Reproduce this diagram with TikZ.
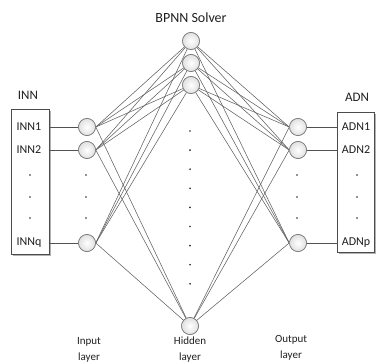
\documentclass[tikz,border=0pt]{standalone}
\usepackage{fontspec}
\setmainfont{Carlito}
\begin{document}
\begin{tikzpicture}[x=1pt,y=-1pt,
  neuron/.style={circle,draw=black!55,line width=0.6pt,inner color=white,outer color=black!12,minimum size=17pt,inner sep=0pt},
  link/.style={draw=black!62,line width=0.55pt},
  feed/.style={draw=black!68,line width=0.7pt},
  panel/.style={draw=black!70,line width=0.6pt,fill=white},
  shade/.style={fill=black!30,draw=none},
  item/.style={font=\fontsize{12}{12}\selectfont,text=black!88},
  head/.style={font=\fontsize{13}{13}\selectfont,text=black!88},
  layer/.style={font=\fontsize{11}{16}\selectfont,text=black!88,align=center},
  dot/.style={circle,fill=black!85,inner sep=0pt,minimum size=1.9pt}]
\useasboundingbox (0,0) rectangle (379,363);

% input and output panels with a soft shadow
\fill[shade] (13,111) rectangle (51,256);
\draw[panel] (11,109) rectangle (49,254);
\fill[shade] (339,114) rectangle (376,254);
\draw[panel] (337,112) rectangle (374,252);
\coordinate (ib1) at (49,127);
\coordinate (ib2) at (49,150);
\coordinate (ibq) at (49,243);
\coordinate (ob1) at (337,127);
\coordinate (ob2) at (337,150);
\coordinate (obp) at (337,243);

\node[head] (inn) at (28,95) {INN};
\node[head] (adn) at (357,97) {ADN};
\node[font=\fontsize{14}{14}\selectfont,text=black!88] (title) at (191,18) {BPNN Solver};

\node[item] (t1) at (29,127) {INN1};
\node[item] (t2) at (29,150) {INN2};
\node[item] (tq) at (29,243) {INNq};
\node[item] (a1) at (356,127) {ADN1};
\node[item] (a2) at (356,150) {ADN2};
\node[item] (ap) at (356,243) {ADNp};
\foreach \y [count=\k] in {175,197,218}{
  \node[dot] (ld\k) at (30,\y) {};
  \node[dot] (rd\k) at (357,\y) {};
  \node[dot] (id\k) at (86,\y) {};
  \node[dot] (od\k) at (297,\y) {};
}
\foreach \k in {0,...,8}{
  \node[dot] (hd\k) at (190,{131+19.1*\k}) {};
}

% neurons
\node[neuron] (i1) at (87,127) {};
\node[neuron] (i2) at (87,150) {};
\node[neuron] (iq) at (87,243) {};
\node[neuron] (h1) at (191,41) {};
\node[neuron] (h2) at (191,63) {};
\node[neuron] (h3) at (191,85) {};
\node[neuron] (hm) at (190,326) {};
\node[neuron] (o1) at (298,127) {};
\node[neuron] (o2) at (298,150) {};
\node[neuron] (op) at (298,243) {};

% weights between the layers
\foreach \i in {i1,i2,iq}
  \foreach \h in {h1,h2,h3,hm}
    \draw[link] (\i.east) -- (\h);
\foreach \o in {o1,o2,op}
  \foreach \h in {h1,h2,h3,hm}
    \draw[link] (\h) -- (\o.west);

% redraw neurons on top of the weights
\foreach \n in {i1,i2,iq,h1,h2,h3,hm,o1,o2,op}
  \path (\n) node[neuron] {};

\draw[feed] (ib1) -- (i1.west);
\draw[feed] (ib2) -- (i2.west);
\draw[feed] (ibq) -- (iq.west);
\draw[feed] (o1.east) -- (ob1);
\draw[feed] (o2.east) -- (ob2);
\draw[feed] (op.east) -- (obp);

\node[layer] (lin) at (89,350) {Input\\layer};
\node[layer] (lhid) at (190,350) {Hidden\\layer};
\node[layer] (lout) at (291,348) {Output\\layer};
\end{tikzpicture}
\end{document}
